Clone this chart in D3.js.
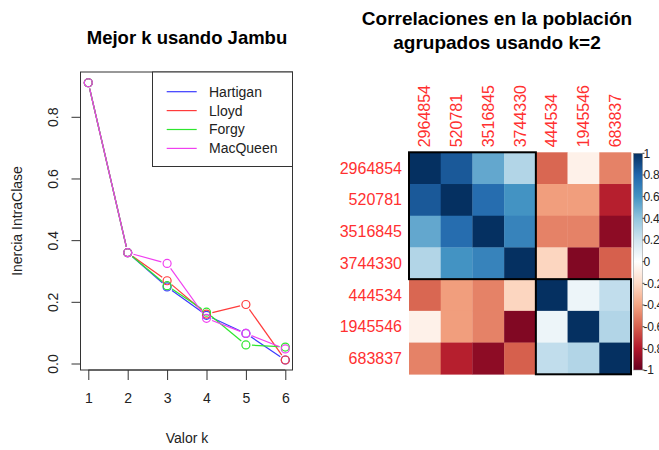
<!DOCTYPE html>
<html><head><meta charset="utf-8">
<script src="https://cdn.jsdelivr.net/npm/d3@7"></script>
<style>body{margin:0;background:#fff}svg{display:block;font-family:"Liberation Sans",Arial,sans-serif}</style>
</head><body><svg id="c" width="659" height="450"></svg>
<script>
// ---- Data ----
const kValues = [1, 2, 3, 4, 5, 6];
const hartigan = [0.912, 0.361, 0.250, 0.158, 0.099, 0.013];
const lloyd    = [0.912, 0.361, 0.270, 0.162, 0.193, 0.013];
const forgy    = [0.912, 0.361, 0.254, 0.168, 0.062, 0.055];
const macqueen = [0.912, 0.361, 0.326, 0.148, 0.099, 0.049];
const seriesNames = ["Hartigan", "Lloyd", "Forgy", "MacQueen"];
const seriesColors = ["#3a3aff", "#ff3b3b", "#2ee62e", "#f040f0"];
const yTicks = [0, 0.2, 0.4, 0.6, 0.8];

const ids = ["2964854", "520781", "3516845", "3744330", "444534", "1945546", "683837"];
const corr = [
  [ 1.00,  0.85,  0.52,  0.30, -0.58, -0.08, -0.50],
  [ 0.85,  1.00,  0.77,  0.60, -0.42, -0.42, -0.78],
  [ 0.52,  0.77,  1.00,  0.67, -0.50, -0.50, -0.90],
  [ 0.30,  0.60,  0.67,  1.00, -0.22, -0.93, -0.60],
  [-0.58, -0.42, -0.50, -0.22,  1.00,  0.08,  0.25],
  [-0.08, -0.42, -0.50, -0.93,  0.08,  1.00,  0.30],
  [-0.50, -0.78, -0.90, -0.60,  0.25,  0.30,  1.00]
];
const clusters = [[0, 4], [4, 7]];
const cbTicks = [1, 0.8, 0.6, 0.4, 0.2, 0, -0.2, -0.4, -0.6, -0.8, -1];
const cbLabels = ["1", "0.8", "0.6", "0.4", "0.2", "0", "-0.2", "-0.4", "-0.6", "-0.8", "-1"];
const rdbu = ["#67001F", "#B2182B", "#D6604D", "#F4A582", "#FDDBC7", "#FFFFFF", "#D1E5F0", "#92C5DE", "#4393C3", "#2166AC", "#053061"];

const svg = d3.select("#c");

// ---- Left: line plot ----
const L = {x0: 80.5, x1: 292.5, y0: 72, y1: 370};
const x = d3.scaleLinear().domain([1, 6]).range([88.3, 285.3]);
const y = d3.scaleLinear().domain([0, 0.8]).range([364, 117.3]);

svg.append("text").attr("x", 187).attr("y", 44).attr("text-anchor", "middle")
  .attr("font-size", 18.5).attr("font-weight", "bold").text("Mejor k usando Jambu");

const gL = svg.append("g");
gL.append("rect").attr("x", L.x0).attr("y", L.y0).attr("width", L.x1 - L.x0).attr("height", L.y1 - L.y0)
  .attr("fill", "none").attr("stroke", "#333").attr("stroke-width", 1);

const yAxis = d3.axisLeft(y).tickValues(yTicks).tickFormat(d3.format(".1f")).tickSize(9).tickPadding(4);
const gy = gL.append("g").attr("transform", `translate(${L.x0},0)`).call(yAxis);
gy.select(".domain").attr("stroke", "#333").attr("d", `M0,${y(0)}V${y(0.8)}`);
gy.selectAll(".tick").attr("transform", null);
gy.selectAll(".tick line").attr("stroke", "#333").attr("y1", d => y(d)).attr("y2", d => y(d));
gy.selectAll(".tick text").attr("font-size", 14).attr("fill", "#222").attr("text-anchor", "middle")
  .attr("transform", d => `translate(-27,${y(d)}) rotate(-90)`)
  .attr("x", 0).attr("y", 0).attr("dy", "0.35em");

const xAxis = d3.axisBottom(x).tickValues(kValues).tickFormat(d3.format("d")).tickSize(10).tickPadding(13);
const gx = gL.append("g").attr("transform", `translate(0,${L.y1})`).call(xAxis);
gx.select(".domain").attr("d", `M${x(1)},0H${x(6)}`).attr("stroke", "#333");
gx.selectAll(".tick line").attr("stroke", "#333");
gx.selectAll(".tick text").attr("font-size", 14).attr("fill", "#222");

svg.append("text").attr("x", 187).attr("y", 443).attr("text-anchor", "middle").attr("font-size", 14).attr("fill", "#222").text("Valor k");
svg.append("text").attr("transform", "translate(17,221) rotate(-90)").attr("text-anchor", "middle").attr("dy", "0.35em")
  .attr("font-size", 14).attr("fill", "#222").text("Inercia IntraClase");

const allSeries = [hartigan, lloyd, forgy, macqueen];
const r = 4;
allSeries.forEach((vals, si) => {
  const pts = vals.map((v, i) => [x(kValues[i]), y(v)]);
  const g = gL.append("g");
  for (let i = 0; i < pts.length - 1; i++) {
    const [ax, ay] = pts[i], [bx, by] = pts[i + 1];
    const dx = bx - ax, dy = by - ay, len = Math.hypot(dx, dy), gap = 6;
    if (len <= 2 * gap) continue;
    const ux = dx / len, uy = dy / len;
    g.append("line").attr("x1", ax + ux * gap).attr("y1", ay + uy * gap)
      .attr("x2", bx - ux * gap).attr("y2", by - uy * gap)
      .attr("stroke", seriesColors[si]).attr("stroke-width", 1.2);
  }
  g.selectAll("circle").data(pts).join("circle").attr("cx", d => d[0]).attr("cy", d => d[1]).attr("r", r)
    .attr("fill", "none").attr("stroke", seriesColors[si]).attr("stroke-width", 1.2);
});

// legend
const lg = gL.append("g");
lg.append("rect").attr("x", 152.5).attr("y", 72).attr("width", 140).attr("height", 94.5)
  .attr("fill", "#fff").attr("stroke", "#333").attr("stroke-width", 1);
seriesNames.forEach((n, i) => {
  const yy = 91.7 + i * 18.9;
  lg.append("line").attr("x1", 166.7).attr("x2", 196.7).attr("y1", yy).attr("y2", yy)
    .attr("stroke", seriesColors[i]).attr("stroke-width", 1.2);
  lg.append("text").attr("x", 209).attr("y", yy).attr("dy", "0.35em").attr("font-size", 14).attr("fill", "#222").text(n);
});

// ---- Right: correlation heatmap ----
svg.append("text").attr("x", 497).attr("y", 25).attr("text-anchor", "middle").attr("font-size", 19)
  .attr("font-weight", "bold").text("Correlaciones en la población");
svg.append("text").attr("x", 497).attr("y", 49).attr("text-anchor", "middle").attr("font-size", 19)
  .attr("font-weight", "bold").text("agrupados usando k=2");

const color = d3.scaleLinear().domain(d3.range(11).map(i => -1 + i * 0.2)).range(rdbu).interpolate(d3.interpolateRgb);
const gx0 = 409, gy0 = 152.3, gw = 222;
const band = d3.scaleBand().domain(ids).range([0, gw]);
const gH = svg.append("g").attr("transform", `translate(${gx0},${gy0})`);
corr.forEach((row, i) => row.forEach((v, j) => {
  gH.append("rect").attr("x", band(ids[j])).attr("y", band(ids[i])).attr("width", band.bandwidth() + 0.3)
    .attr("height", band.bandwidth() + 0.3).attr("fill", color(v));
}));
clusters.forEach(([a, b]) => {
  const s = band.bandwidth();
  gH.append("rect").attr("x", a * s).attr("y", a * s).attr("width", (b - a) * s).attr("height", (b - a) * s)
    .attr("fill", "none").attr("stroke", "#000").attr("stroke-width", 2);
});
ids.forEach(id => {
  gH.append("text").attr("x", -7).attr("y", band(id) + band.bandwidth() / 2).attr("dy", "0.35em")
    .attr("text-anchor", "end").attr("font-size", 16).attr("fill", "#ff3030").text(id);
  gH.append("text").attr("transform", `translate(${band(id) + band.bandwidth() / 2},-5) rotate(-90)`)
    .attr("dy", "0.35em").attr("font-size", 16).attr("fill", "#ff3030").text(id);
});

// colorbar
const cb = {x: 633.5, w: 9, y0: 153.3, y1: 370};
const cy = d3.scaleLinear().domain([-1, 1]).range([cb.y1, cb.y0]);
const defs = svg.append("defs");
const grad = defs.append("linearGradient").attr("id", "cbg").attr("x1", 0).attr("y1", 1).attr("x2", 0).attr("y2", 0);
rdbu.forEach((c, i) => grad.append("stop").attr("offset", i / 10).attr("stop-color", c));
svg.append("rect").attr("x", cb.x).attr("y", cb.y0).attr("width", cb.w).attr("height", cb.y1 - cb.y0)
  .attr("fill", "url(#cbg)").attr("stroke", "#888").attr("stroke-width", 0.5);
cbTicks.forEach((t, i) => {
  svg.append("line").attr("x1", cb.x + cb.w).attr("x2", cb.x + cb.w + 2).attr("y1", cy(t)).attr("y2", cy(t)).attr("stroke", "#444");
  svg.append("text").attr("x", cb.x + cb.w + 1).attr("y", cy(t)).attr("dy", "0.35em").attr("font-size", 12)
    .attr("letter-spacing", -0.3).attr("fill", "#222").text(cbLabels[i]);
});
</script></body></html>
